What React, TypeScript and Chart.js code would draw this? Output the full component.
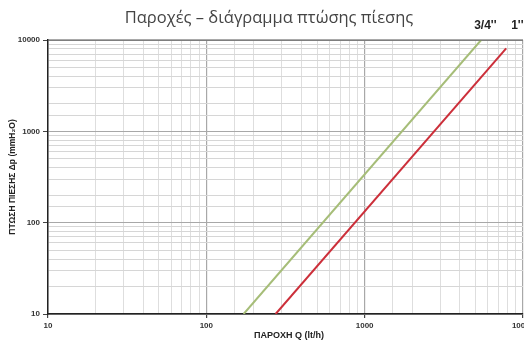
import React, { useEffect, useRef } from "react";
import { Chart, registerables } from "chart.js";

Chart.register(...registerables);

const TITLE = "Παροχές – διάγραμμα πτώσης πίεσης";
const X_TITLE = "ΠΑΡΟΧΗ Q (lt/h)";
const Y_TITLE = "ΠΤΩΣΗ ΠΙΕΣΗΣ Δp (mmH₂O)";
const SERIES_LABELS = ["3/4''", "1''"];

const flowGreen = [172, 5440];
const dropGreen = [10, 10000];
const flowRed = [274, 7830];
const dropRed = [10, 8100];

const X_MIN = 10;
const X_MAX = 10000;
const Y_MIN = 10;
const Y_MAX = 10000;

const isDecade = (v: number) => Math.abs(Math.log10(v) - Math.round(Math.log10(v))) < 1e-6;

const TICK_FONT = { family: "'Liberation Sans', Arial, sans-serif", size: 8, weight: "bold" as const };

export default function App() {
  const ref = useRef<HTMLCanvasElement | null>(null);

  useEffect(() => {
    document.body.style.margin = "0";
    const canvas = ref.current;
    if (!canvas) return;

    const textPlugin = {
      id: "texts",
      afterDraw(chart: any) {
        const { ctx, chartArea } = chart;
        ctx.save();
        // main title
        ctx.fillStyle = "#444";
        ctx.font = "400 16.5px 'Open Sans', sans-serif";
        ctx.textAlign = "center";
        ctx.textBaseline = "middle";
        ctx.fillText(TITLE, 269, 18);
        // x title
        ctx.fillStyle = "#222";
        ctx.font = "bold 9px 'Liberation Sans', Arial, sans-serif";
        ctx.fillText(X_TITLE, 289, 336);
        // y title
        ctx.save();
        ctx.translate(13, (chartArea.top + chartArea.bottom) / 2);
        ctx.rotate(-Math.PI / 2);
        ctx.font = "bold 8.5px 'Liberation Sans', Arial, sans-serif";
        ctx.fillText(Y_TITLE, 0, 0);
        ctx.restore();
        // series labels near line ends
        ctx.font = "bold 12px 'Liberation Sans', Arial, sans-serif";
        ctx.fillStyle = "#222";
        ctx.textAlign = "left";
        const xs = chart.scales.x;
        const gx = xs.getPixelForValue(flowGreen[flowGreen.length - 1]);
        const rx = xs.getPixelForValue(flowRed[flowRed.length - 1]);
        ctx.fillText(SERIES_LABELS[0], gx - 7, 26);
        ctx.fillText(SERIES_LABELS[1], rx + 5, 26);
        // top border
        ctx.strokeStyle = "#555";
        ctx.lineWidth = 1.2;
        ctx.beginPath();
        ctx.moveTo(chartArea.left, chartArea.top);
        ctx.lineTo(chartArea.right, chartArea.top);
        ctx.stroke();
        ctx.restore();
      },
    };

    const chart = new Chart(canvas, {
      type: "scatter",
      data: {
        datasets: [
          {
            label: SERIES_LABELS[0],
            data: flowGreen.map((x, i) => ({ x, y: dropGreen[i] })),
            borderColor: "#a6bd78",
            borderWidth: 2,
            showLine: true,
            pointRadius: 0,
          },
          {
            label: SERIES_LABELS[1],
            data: flowRed.map((x, i) => ({ x, y: dropRed[i] })),
            borderColor: "#cc2f3a",
            borderWidth: 2,
            showLine: true,
            pointRadius: 0,
          },
        ],
      },
      options: {
        responsive: false,
        animation: false,
        layout: { padding: { left: 0, top: 40, right: 37, bottom: 0 } },
        plugins: {
          legend: { display: false },
          title: { display: false },
          tooltip: { enabled: false },
        },
        scales: {
          x: {
            type: "logarithmic",
            min: X_MIN,
            max: X_MAX,
            afterFit: (s: any) => {
              s.height = 28;
            },
            border: { color: "#222", width: 1.5 },
            grid: {
              color: (c: any) => (c.tick && isDecade(c.tick.value) ? "#a8a8a8" : "#dedede"),
              lineWidth: (c: any) => (c.tick && isDecade(c.tick.value) ? 1.2 : 1),
              tickLength: 4,
              tickColor: (c: any) => (c.tick && isDecade(c.tick.value) ? "#444" : "rgba(0,0,0,0)"),
            },
            ticks: {
              autoSkip: false,
              maxRotation: 0,
              padding: 3,
              color: "#333",
              font: TICK_FONT,
              callback: (v: any) => (isDecade(Number(v)) ? String(v) : ""),
            },
          },
          y: {
            type: "logarithmic",
            min: Y_MIN,
            max: Y_MAX,
            afterFit: (s: any) => {
              s.width = 48;
            },
            border: { color: "#222", width: 1.5 },
            grid: {
              color: (c: any) => (c.tick && isDecade(c.tick.value) ? "#a8a8a8" : "#d6d6d6"),
              tickLength: 5,
              tickColor: (c: any) => (c.tick && isDecade(c.tick.value) ? "#444" : "rgba(0,0,0,0)"),
            },
            ticks: {
              autoSkip: false,
              padding: 3,
              color: "#333",
              font: TICK_FONT,
              callback: (v: any) => (isDecade(Number(v)) ? String(v) : ""),
            },
          },
        },
      },
      plugins: [textPlugin],
    });

    return () => chart.destroy();
  }, []);

  return (
    <div style={{ width: 524, height: 342, overflow: "hidden", background: "#fff" }}>
      <canvas ref={ref} width={560} height={342} style={{ display: "block" }} />
    </div>
  );
}
